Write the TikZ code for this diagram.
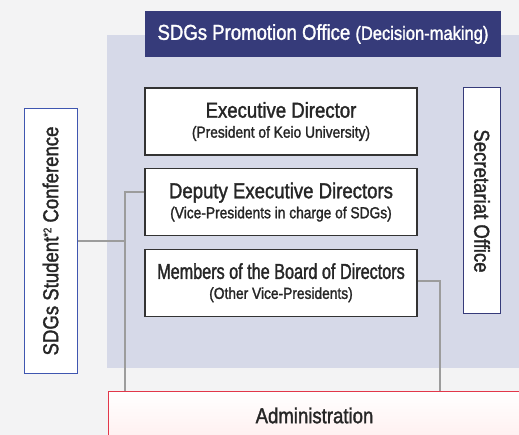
\documentclass[tikz,border=0pt]{standalone}
\usepackage{fontspec}
\setmainfont{Liberation Sans}[FakeStretch=0.86,FakeBold=1.5]
\newfontface\narrowface{Liberation Sans}[FakeStretch=0.75,FakeBold=1.5]
\usetikzlibrary{positioning}
\definecolor{navy}{HTML}{363B7A}
\definecolor{lavender}{HTML}{D6D9E8}
\definecolor{confblue}{HTML}{3F56B0}
\definecolor{linkgrey}{HTML}{9C9C9C}
\definecolor{adminred}{HTML}{E2374A}
\definecolor{backdrop}{HTML}{F3F3F4}
\newcommand{\subtxt}{\fontsize{16}{18}\selectfont}

\begin{document}
\begin{tikzpicture}[x=1pt,y=-1pt,node distance=12.5pt,
    every node/.style={font=\fontsize{21.6}{22}\selectfont,text=black!85},
    board/.style={draw=black!80,line width=1.1pt,fill=white,minimum width=272pt,
        minimum height=67pt,align=center,inner sep=0pt},
    sidebox/.style={fill=white,line width=1pt,inner sep=0pt},
    link/.style={draw=linkgrey,line width=2pt}]
    \useasboundingbox (0,0) rectangle (519,435);
    \fill[backdrop] (0,0) rectangle (519,435);
    \fill[lavender] (107,35) rectangle (519,368);

    \node[fill=navy,text=white,minimum width=356pt,minimum height=46pt,inner sep=0pt]
        (office) at (323,34) {SDGs Promotion Office {\fontsize{19.2}{22}\selectfont(Decision-making)}};

    \node[board] (exec) at (281,121.5) {Executive Director\\[-2pt]{\subtxt (President of Keio University)}};
    \node[board] (deputy) [below=of exec] {Deputy Executive Directors\\[-2pt]{\subtxt (Vice-Presidents in charge of SDGs)}};
    \node[board] (members) [below=of deputy] {{\narrowface Members of the Board of Directors}\\[-2pt]{\subtxt (Other Vice-Presidents)}};

    \node[sidebox,draw=navy,rotate=-90,minimum width=226pt,minimum height=37.5pt]
        (secretariat) at (482,201) {Secretariat Office};
    \node[sidebox,draw=confblue,rotate=90,minimum width=264pt,minimum height=53pt]
        (conf) at (50.5,241) {SDGs Student{\fontsize{11}{11}\selectfont\raisebox{7pt}{*2}} Conference};
    \node[draw=adminred,line width=1pt,top color=white,bottom color=red!6,
        minimum width=412pt,minimum height=48pt,anchor=north west]
        (admin) at (108,391) {Administration};

    \coordinate (ltrunk) at (125,0);
    \coordinate (rtrunk) at (440,0);
    \draw[link] (conf.south) -- (conf.south -| ltrunk);
    \draw[link] ([yshift=10.5pt]deputy.west) -| (admin.north -| ltrunk);
    \draw[link] ([yshift=1.5pt]members.east) -| (admin.north -| rtrunk);
\end{tikzpicture}
\end{document}
